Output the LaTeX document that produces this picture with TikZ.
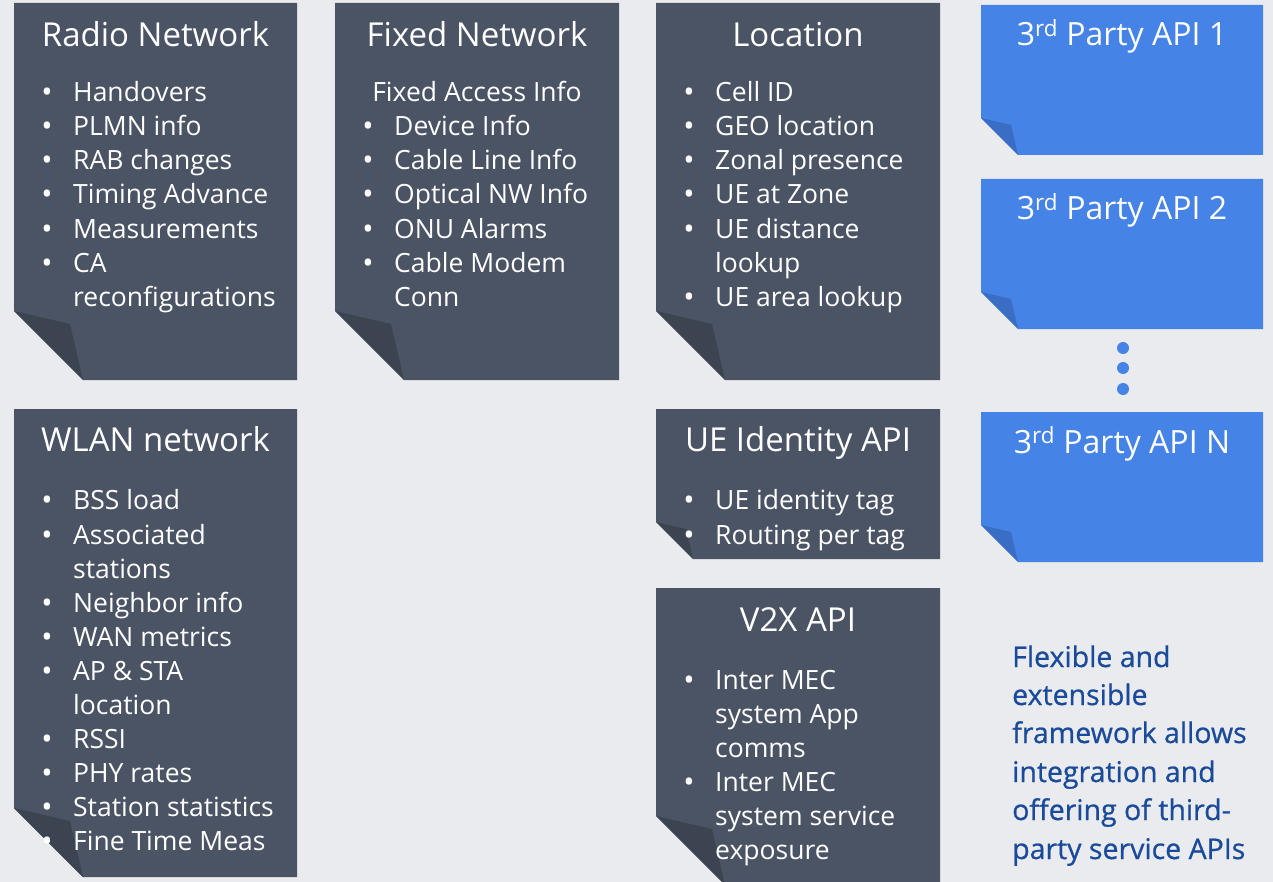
\documentclass[tikz,border=0pt]{standalone}
\usepackage{fontspec}
\setmainfont{Open Sans}
\newfontfamily\notefont[FakeBold=0.7]{Open Sans}
\definecolor{bg}{HTML}{EAEBEF}
\definecolor{card}{HTML}{4B5464}
\definecolor{flap}{HTML}{3D4451}
\definecolor{bluecard}{HTML}{4683E6}
\definecolor{blueflap}{HTML}{3A6DC4}
\definecolor{bluetext}{HTML}{1A4A9A}
% name, x1, y1, x2, y2, fold, flap depth, fill, flap colour
\newcommand\mycard[9]{%
  \fill[#8] (#2,#3) -- (#4,#3) -- (#4,#5) -- ({#2+#6},#5) -- (#2,{#5-#6}) -- cycle;
  \fill[#9] (#2,{#5-#6}) -- ({#2+#7},{#5-#7}) -- ({#2+#6},#5) -- cycle;
  \coordinate (#1) at ({(#2+#4)/2},{(#3+#5)/2});}
\newcommand\ttl[4]{\node[cardtitle] (#1) at (#2,{#3+11.5}) {#4};}
\newcommand\itm[4]{\node[bul] (#1b) at ({#2+2},{#3+10}) {•};\node[item] (#1) at ({#2+28},{#3+9}) {#4};}
\newcommand\cnt[4]{\node[item] (#1) at ({#2+28},{#3+9}) {#4};}
\tikzset{
  cardtitle/.style={anchor=base, inner sep=0, text=white, font=\fontsize{33}{38}\selectfont},
  item/.style={anchor=base west, inner sep=0, text=white, font=\fontsize{26.5}{30}\selectfont},
  bul/.style={anchor=base, inner sep=0, text=white, font=\fontsize{30}{34}\selectfont},
  bluetitle/.style={anchor=base, inner sep=0, text=white, font=\fontsize{32}{38}\selectfont},
  note/.style={anchor=base west, inner sep=0, text=bluetext, font=\notefont\fontsize{28.5}{34}\selectfont},
  dot/.style={circle, fill=bluecard, minimum size=12pt, inner sep=0}
}
\begin{document}
\begin{tikzpicture}[x=1pt,y=-1pt]
\fill[bg] (0,0) rectangle (1273,882);
\useasboundingbox (0,0) rectangle (1273,882);
\clip (0,0) rectangle (1273,882);
% cards
\mycard{radio}{14}{3}{297}{380}{69}{56}{card}{flap}
\mycard{fixed}{335}{3}{619}{380}{69}{56}{card}{flap}
\mycard{loc}{656}{3}{940}{380}{69}{56}{card}{flap}
\mycard{wlan}{14}{409}{297}{877}{69}{56}{card}{flap}
\mycard{ueid}{656}{409}{940}{559}{37}{30}{card}{flap}
\mycard{v2x}{656}{588}{940}{885}{69}{56}{card}{flap}
\mycard{api1}{981}{5}{1263}{155}{37}{30}{bluecard}{blueflap}
\mycard{api2}{981}{179}{1263}{329}{37}{30}{bluecard}{blueflap}
\mycard{apin}{981}{412}{1263}{562}{37}{30}{bluecard}{blueflap}
% dots
\node[dot] (d1) at (1123,348) {};
\node[dot] (d2) at (1123,368) {};
\node[dot] (d3) at (1123,389) {};
% Radio Network
\ttl{rt}{155.5}{35}{Radio Network}
\itm{r1}{45}{93}{Handovers}
\itm{r2}{45}{127}{PLMN info}
\itm{r3}{45}{161}{RAB changes}
\itm{r4}{45}{195}{Timing Advance}
\itm{r5}{45}{230}{Measurements}
\itm{r6}{45}{264}{CA}
\cnt{r7}{45}{298}{reconfigurations}
% Fixed Network
\ttl{ft}{477}{35}{Fixed Network}
\node[item, anchor=base] (f0) at (477,102) {Fixed Access Info};
\itm{f1}{366}{127}{Device Info}
\itm{f2}{366}{161}{Cable Line Info}
\itm{f3}{366}{195}{Optical NW Info}
\itm{f4}{366}{230}{ONU Alarms}
\itm{f5}{366}{264}{Cable Modem}
\cnt{f6}{366}{298}{Conn}
% Location
\ttl{lt}{798}{35}{Location}
\itm{l1}{687}{93}{Cell ID}
\itm{l2}{687}{127}{GEO location}
\itm{l3}{687}{161}{Zonal presence}
\itm{l4}{687}{195}{UE at Zone}
\itm{l5}{687}{230}{UE distance}
\cnt{l6}{687}{264}{lookup}
\itm{l7}{687}{298}{UE area lookup}
% WLAN
\ttl{wt}{155.5}{440}{WLAN network}
\itm{w1}{45}{500}{BSS load}
\itm{w2}{45}{535}{Associated}
\cnt{w3}{45}{569}{stations}
\itm{w4}{45}{603}{Neighbor info}
\itm{w5}{45}{637}{WAN metrics}
\itm{w6}{45}{671}{AP \& STA}
\cnt{w7}{45}{705}{location}
\itm{w8}{45}{739}{RSSI}
\itm{w9}{45}{773}{PHY rates}
\itm{w10}{45}{807}{Station statistics}
\itm{w11}{45}{841}{Fine Time Meas}
% UE Identity
\ttl{ut}{798}{440}{UE Identity API}
\itm{u1}{687}{500}{UE identity tag}
\itm{u2}{687}{535}{Routing per tag}
% V2X
\ttl{vt}{798}{620}{V2X API}
\itm{v1}{687}{680}{Inter MEC}
\cnt{v2}{687}{714}{system App}
\cnt{v3}{687}{748}{comms}
\itm{v4}{687}{782}{Inter MEC}
\cnt{v5}{687}{816}{system service}
\cnt{v6}{687}{850}{exposure}
% blue titles
\node[bluetitle] (a1) at (1122,46) {3\textsuperscript{rd} Party API 1};
\node[bluetitle] (a2) at (1122,220) {3\textsuperscript{rd} Party API 2};
\node[bluetitle] (an) at (1122,453) {3\textsuperscript{rd} Party API N};
% note
\node[note] (n1) at (1012,667) {Flexible and};
\node[note] (n2) at (1012,705) {extensible};
\node[note] (n3) at (1012,743) {framework allows};
\node[note] (n4) at (1012,782) {integration and};
\node[note] (n5) at (1012,820) {offering of third-};
\node[note] (n6) at (1012,859) {party service APIs};
\end{tikzpicture}
\end{document}
